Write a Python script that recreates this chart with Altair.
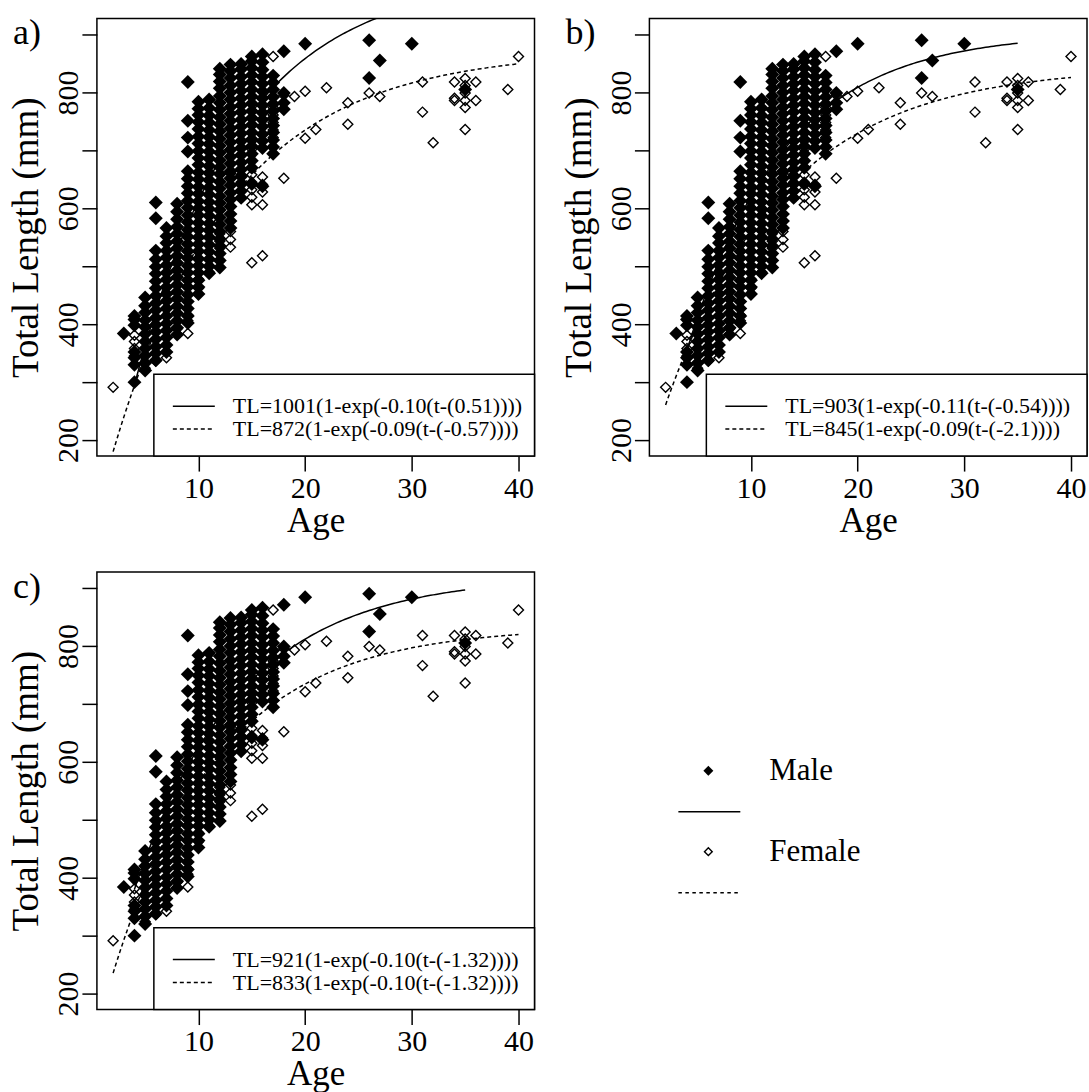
import altair as alt
import pandas as pd

# ---------------- data ----------------
male_ages = [3, 4, 5, 6, 7, 8, 9, 10, 11, 12, 13, 14, 15, 16, 17, 18, 20, 26, 27, 30, 35]
male_tl = [
    [384],
    [300, 330, 342, 352, 398, 408, 414],
    [320, 333, 346, 358, 370, 383, 395, 407, 420, 432, 446],
    [338, 350, 361, 374, 387, 399, 411, 424, 436, 449, 462, 474, 487, 499, 512, 527, 583, 610],
    [352, 364, 377, 389, 401, 414, 427, 440, 452, 464, 477, 489, 502, 515, 527, 540, 552, 566],
    [382, 394, 406, 419, 431, 444, 456, 468, 481, 493, 506, 518, 531, 543, 556, 568, 581, 594, 608],
    [402, 414, 427, 439, 451, 464, 476, 489, 501, 514, 526, 538, 551, 563, 576, 588, 601, 613,
     626, 638, 651, 664, 698, 722, 751, 818],
    [452, 464, 476, 489, 501, 513, 526, 538, 550, 563, 575, 588, 600, 612, 625, 637, 650, 662,
     675, 687, 699, 712, 724, 737, 749, 761, 772, 784],
    [488, 500, 512, 525, 537, 550, 562, 574, 587, 599, 611, 624, 636, 649, 661, 673, 686, 698,
     711, 723, 735, 748, 760, 773, 788],
    [498, 510, 522, 535, 547, 560, 572, 584, 597, 609, 621, 634, 646, 659, 671, 683, 696, 708,
     720, 733, 745, 757, 770, 782, 794, 807, 819, 831, 841],
    [566, 578, 590, 603, 615, 627, 640, 652, 664, 677, 689, 701, 714, 726, 738, 751, 763, 775,
     788, 800, 812, 825, 837, 848],
    [618, 630, 642, 655, 667, 679, 692, 704, 716, 729, 741, 753, 766, 778, 790, 803, 815, 827,
     840, 849],
    [642, 670, 682, 694, 707, 719, 731, 744, 756, 768, 781, 793, 805, 818, 830, 842, 854, 862],
    [638, 704, 716, 728, 741, 753, 765, 778, 790, 802, 815, 827, 839, 852, 866],
    [694, 706, 718, 731, 743, 755, 768, 780, 792, 805, 817, 829],
    [771, 782, 799, 871],
    [884],
    [890, 825],
    [855],
    [884],
    [805],
]

female_ages = [2, 4, 5, 6, 7, 8, 9, 10, 11, 12, 13, 14, 15, 16, 17, 18, 19, 20, 21, 22, 24,
               26, 27, 31, 32, 34, 35, 36, 39, 40]
female_tl = [
    [291],
    [345, 358, 370, 381],
    [324, 334],
    [336, 350],
    [342, 352],
    [383, 392],
    [384, 406, 416],
    [452, 462, 478],
    [490, 786],
    [531, 543, 556],
    [533, 546, 560, 660],
    [618, 630, 645, 658],
    [506, 606, 619, 632, 645, 658, 702, 716, 730, 744],
    [518, 606, 628, 641, 654],
    [862, 722, 735, 748, 761, 774],
    [652, 795],
    [793],
    [802, 721],
    [736],
    [808],
    [782, 745],
    [799],
    [793],
    [818, 766],
    [713],
    [818, 790, 786],
    [824, 812, 799, 786, 774, 736],
    [818, 786],
    [805],
    [862],
]

panel_labels = ["a)", "b)", "c)"]
male_linf = [1001, 903, 921]
male_k = [0.10, 0.11, 0.10]
male_t0 = [0.51, -0.54, -1.32]
female_linf = [872, 845, 833]
female_k = [0.09, 0.09, 0.10]
female_t0 = [-0.57, -2.1, -1.32]
male_eq = ["TL=1001(1-exp(-0.10(t-(0.51))))",
           "TL=903(1-exp(-0.11(t-(-0.54))))",
           "TL=921(1-exp(-0.10(t-(-1.32))))"]
female_eq = ["TL=872(1-exp(-0.09(t-(-0.57))))",
             "TL=845(1-exp(-0.09(t-(-2.1))))",
             "TL=833(1-exp(-0.10(t-(-1.32))))"]
male_age_range = [4, 35]
female_age_range = [2, 40]

x_ticks = [10, 20, 30, 40]
y_ticks = [200, 300, 400, 500, 600, 700, 800, 900]
legend_labels = ["Male", "Female"]

# ---------------- build tables ----------------
rows = []
for a, vals in zip(male_ages, male_tl):
    for v in vals:
        rows.append({"age": a, "tl": v, "sex": "Male"})
for a, vals in zip(female_ages, female_tl):
    for v in vals:
        rows.append({"age": a, "tl": v, "sex": "Female"})
pts = pd.DataFrame(rows)

FONT = "Liberation Serif"
W = 438
H = 438
X_DOMAIN = [0.48, 41.5]
Y_DOMAIN = [172.4, 927.6]
DASH = [4, 3]


def panel(i):
    x = alt.X("age:Q", scale=alt.Scale(domain=X_DOMAIN, nice=False, zero=False),
              axis=alt.Axis(values=x_ticks, title="Age", domain=False, grid=False,
                            tickSize=15, tickWidth=1.5, tickColor="black",
                            labelFont=FONT, labelFontSize=30, labelColor="black",
                            labelPadding=2, labelFlush=False, labelOverlap=False,
                            titleFont=FONT, titleFontSize=35, titleFontWeight="normal",
                            titleColor="black", titlePadding=0))
    y = alt.Y("tl:Q", scale=alt.Scale(domain=Y_DOMAIN, nice=False, zero=False),
              axis=alt.Axis(values=y_ticks, title="Total Length (mm)", domain=False, grid=False,
                            labelExpr="datum.value % 200 == 0 ? datum.label : ''",
                            tickSize=15, tickWidth=1.5, tickColor="black",
                            labelFont=FONT, labelFontSize=30, labelColor="black",
                            labelAngle=-90, labelAlign="center", labelBaseline="alphabetic",
                            labelPadding=4, labelFlush=False, labelOverlap=False,
                            titleFont=FONT, titleFontSize=37, titleFontWeight="normal",
                            titleColor="black", titlePadding=8))

    males = alt.Chart(pts).transform_filter(alt.datum.sex == "Male").mark_point(
        shape="diamond", filled=True, size=195, color="black", opacity=1
    ).encode(x=x, y=y)
    females = alt.Chart(pts).transform_filter(alt.datum.sex == "Female").mark_point(
        shape="diamond", filled=False, size=100, color="black", strokeWidth=1.4, opacity=1
    ).encode(x=x, y=y)

    mcurve = alt.Chart(alt.sequence(male_age_range[0], male_age_range[1] + 0.001, 0.25, as_="t")
                       ).transform_calculate(
        age="datum.t",
        tl=f"{male_linf[i]}*(1-exp(-{male_k[i]}*(datum.t-({male_t0[i]}))))",
    ).mark_line(color="black", strokeWidth=1.5, clip=True).encode(x=x, y=y)
    fcurve = alt.Chart(alt.sequence(female_age_range[0], female_age_range[1] + 0.001, 0.25, as_="t")
                       ).transform_calculate(
        age="datum.t",
        tl=f"{female_linf[i]}*(1-exp(-{female_k[i]}*(datum.t-({female_t0[i]}))))",
    ).mark_line(color="black", strokeWidth=1.5, strokeDash=DASH, clip=True).encode(x=x, y=y)

    eq_df = pd.DataFrame({"eq": [male_eq[i], female_eq[i]], "sex": legend_labels})
    box = alt.Chart(eq_df).transform_filter(alt.datum.sex == "Male").mark_rect(
        fill="white", stroke="black", strokeWidth=1.5
    ).encode(x=alt.value(57), x2=alt.value(W), y=alt.value(356), y2=alt.value(H))
    m_rule = alt.Chart(eq_df).transform_filter(alt.datum.sex == "Male").mark_rule(
        color="black", strokeWidth=1.5
    ).encode(x=alt.value(76), x2=alt.value(118), y=alt.value(388))
    f_rule = alt.Chart(eq_df).transform_filter(alt.datum.sex == "Female").mark_rule(
        color="black", strokeWidth=1.5, strokeDash=DASH
    ).encode(x=alt.value(76), x2=alt.value(118), y=alt.value(411))
    m_txt = alt.Chart(eq_df).transform_filter(alt.datum.sex == "Male").mark_text(
        align="left", baseline="middle", font=FONT, fontSize=22, color="black"
    ).encode(text="eq:N", x=alt.value(136), y=alt.value(388))
    f_txt = alt.Chart(eq_df).transform_filter(alt.datum.sex == "Female").mark_text(
        align="left", baseline="middle", font=FONT, fontSize=22, color="black"
    ).encode(text="eq:N", x=alt.value(136), y=alt.value(411))

    lab_df = pd.DataFrame({"lab": [panel_labels[i]]})
    lab = alt.Chart(lab_df).mark_text(
        align="left", baseline="alphabetic", font=FONT, fontSize=36, color="black"
    ).encode(text="lab:N", x=alt.value(-84), y=alt.value(26))

    return alt.layer(males, females, mcurve, fcurve, box, m_rule, f_rule, m_txt, f_txt, lab
                     ).properties(width=W, height=H)


# ---------------- separate key (bottom right) ----------------
leg_df = pd.DataFrame({"sex": legend_labels})
key_m_pt = alt.Chart(leg_df).transform_filter(alt.datum.sex == "Male").mark_point(
    shape="diamond", filled=True, size=100, color="black", opacity=1
).encode(x=alt.value(151), y=alt.value(199))
key_m_line = alt.Chart(leg_df).transform_filter(alt.datum.sex == "Male").mark_rule(
    color="black", strokeWidth=1.5
).encode(x=alt.value(121), x2=alt.value(183), y=alt.value(240))
key_f_pt = alt.Chart(leg_df).transform_filter(alt.datum.sex == "Female").mark_point(
    shape="diamond", filled=False, size=60, color="black", strokeWidth=1.4, opacity=1
).encode(x=alt.value(151), y=alt.value(280))
key_f_line = alt.Chart(leg_df).transform_filter(alt.datum.sex == "Female").mark_rule(
    color="black", strokeWidth=1.5, strokeDash=[3.5, 3.5]
).encode(x=alt.value(121), x2=alt.value(183), y=alt.value(321))
key_m_txt = alt.Chart(leg_df).transform_filter(alt.datum.sex == "Male").mark_text(
    align="left", baseline="middle", font=FONT, fontSize=31, color="black"
).encode(text="sex:N", x=alt.value(212), y=alt.value(199))
key_f_txt = alt.Chart(leg_df).transform_filter(alt.datum.sex == "Female").mark_text(
    align="left", baseline="middle", font=FONT, fontSize=31, color="black"
).encode(text="sex:N", x=alt.value(212), y=alt.value(280))

key = alt.layer(key_m_pt, key_m_line, key_f_pt, key_f_line, key_m_txt, key_f_txt).properties(
    width=300, height=H, view=alt.ViewBackground(stroke="transparent")
)

top = alt.hconcat(panel(0), panel(1), spacing=23)
bottom = alt.hconcat(panel(2), key, spacing=20)

chart = alt.vconcat(top, bottom, spacing=29).properties(
    padding={"left": 7, "top": 14, "right": 0, "bottom": 0},
    background="white",
).configure_view(stroke="black", strokeWidth=1.5)

chart.save("out.html", embed_options={"renderer": "svg", "actions": False})
